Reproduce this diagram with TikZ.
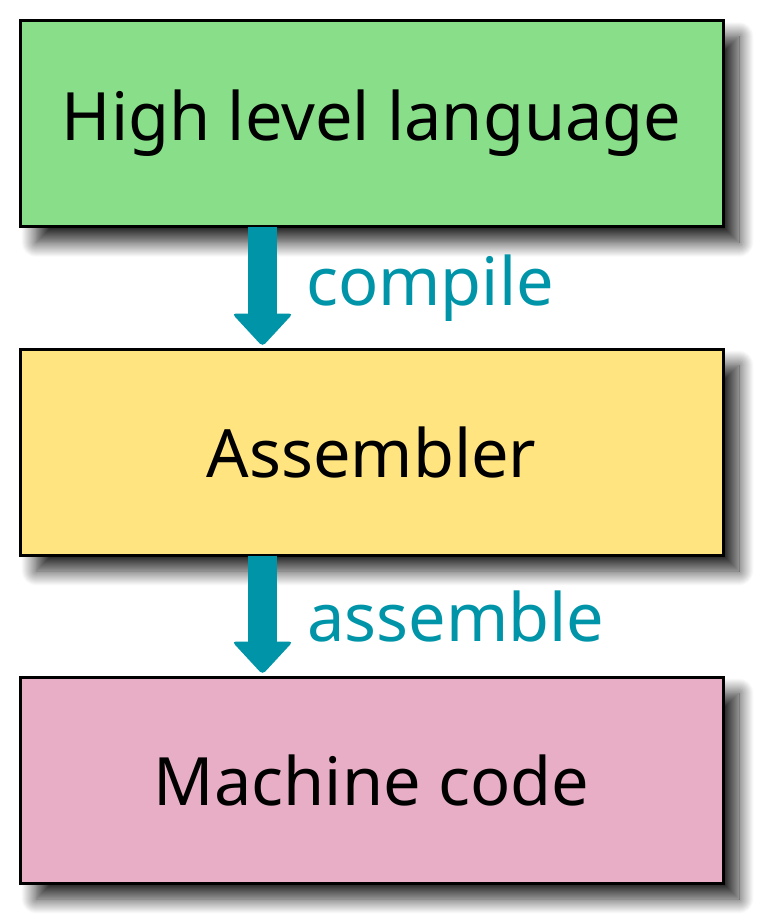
\documentclass[tikz,border=0pt]{standalone}
\usepackage{fontspec}
\setmainfont{Noto Sans}
\usetikzlibrary{shadows.blur,calc}
\definecolor{boxgreen}{RGB}{137,223,137}
\definecolor{boxyellow}{RGB}{255,228,128}
\definecolor{boxpink}{RGB}{232,174,197}
\definecolor{arrowteal}{RGB}{0,148,168}
\tikzset{
  stagebox/.style={draw=black, line width=2.25pt, minimum width=703*0.75pt, minimum height=206*0.75pt,
    inner sep=0pt, font=\fontsize{50pt}{58pt}\selectfont,
    blur shadow={shadow xshift=12pt, shadow yshift=-12pt, shadow blur radius=11pt, shadow blur steps=20, shadow opacity=85}},
  flowlabel/.style={anchor=base west, inner sep=0pt, text=arrowteal, font=\fontsize{50pt}{58pt}\selectfont},
  shaftline/.style={draw=arrowteal, line width=29*0.75pt},
  headtip/.style={fill=arrowteal, rounded corners=3pt},
}
\begin{document}
\begin{tikzpicture}[x=0.75pt, y=-0.75pt]
\useasboundingbox (0,0) rectangle (760,920);
\node[stagebox, fill=boxgreen] (b1) at (371.5,123.5) {High level language};
\node[stagebox, fill=boxyellow] (b2) at (371.5,452) {Assembler};
\node[stagebox, fill=boxpink] (b3) at (371.5,780) {Machine code};
\coordinate (ax) at (262.5,0);
% arrow 1
\coordinate (t1) at ($(b2.north -| ax)+(0,-1)$);
\draw[shaftline] ($(b1.south -| ax)+(0,-1)$) -- ($(t1)+(0,-30)$);
\fill[headtip] (t1) -- ++(-30.5,-33) -- ++(61,0) -- cycle;
% arrow 2
\coordinate (t2) at ($(b3.north -| ax)+(0,-1)$);
\draw[shaftline] ($(b2.south -| ax)+(0,-1)$) -- ($(t2)+(0,-30)$);
\fill[headtip] (t2) -- ++(-30.5,-33) -- ++(61,0) -- cycle;
\node[flowlabel] (l1) at (306,305) {compile};
\node[flowlabel] (l2) at (307,641) {assemble};
\end{tikzpicture}
\end{document}
